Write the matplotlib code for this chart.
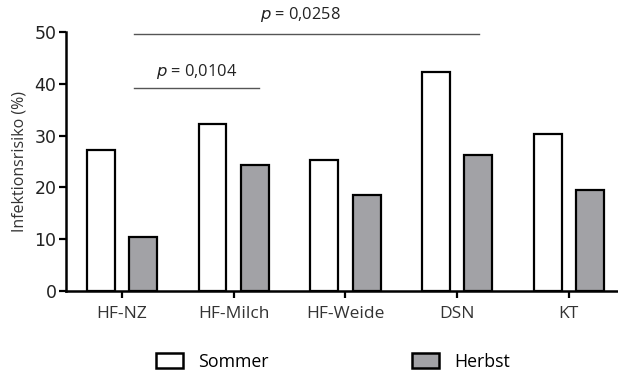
import numpy as np
import matplotlib
matplotlib.use("Agg")
import matplotlib.pyplot as plt
from matplotlib.patches import Patch

categories = ["HF-NZ", "HF-Milch", "HF-Weide", "DSN", "KT"]
sommer = [27.2, 32.2, 25.3, 42.3, 30.3]
herbst = [10.4, 24.4, 18.5, 26.3, 19.5]
series_names = ["Sommer", "Herbst"]
y_ticks = [0, 10, 20, 30, 40, 50]

GRAY = "#a2a2a6"
TXT = "#222222"
x = np.arange(len(categories))
w = 0.25
off = 0.19

fig = plt.figure(figsize=(6.18, 3.72), dpi=100)
ax = fig.add_axes([0.107, 0.218, 0.893, 0.696])

ax.bar(x - off, sommer, w, color="white", edgecolor="black", linewidth=1.6, zorder=3)
ax.bar(x + off, herbst, w, color=GRAY, edgecolor="black", linewidth=1.6, zorder=3)

ax.set_xlim(-0.5, 4.44)
ax.set_ylim(0, 50)
ax.set_yticks(y_ticks)
ax.set_yticklabels([str(t) for t in y_ticks], fontsize=12.5, family="DejaVu Sans", color=TXT)
ax.set_xticks(x)
ax.set_xticklabels(categories, fontsize=12.5, family="Open Sans", color="#333333")
ax.tick_params(axis="both", direction="out", length=5, width=1.6)
ax.tick_params(axis="x", pad=6)
ax.tick_params(axis="y", pad=2)
for s in ["top", "right"]:
    ax.spines[s].set_visible(False)
for s in ["left", "bottom"]:
    ax.spines[s].set_linewidth(1.8)

ax.set_ylabel("Infektionsrisiko (%)", fontsize=11.5, family="Open Sans", color="#333333", labelpad=5)

# p-value brackets
ax.plot([0.11, 3.2], [49.7, 49.7], color="#555555", lw=1.0, clip_on=False)
ax.text(1.6, 53.4, "$p$ = 0,0258", ha="center", va="center", fontsize=11.8, family="Open Sans", color=TXT)
ax.plot([0.11, 1.23], [39.2, 39.2], color="#555555", lw=1.0, clip_on=False)
ax.text(0.67, 42.4, "$p$ = 0,0104", ha="center", va="center", fontsize=11.8, family="Open Sans", color=TXT)

handles = [Patch(facecolor="white", edgecolor="black", linewidth=1.8),
           Patch(facecolor=GRAY, edgecolor="black", linewidth=1.8)]
fig.legend(handles, series_names, loc="center", bbox_to_anchor=(0.539, 0.028), ncol=2,
           frameon=False, handlelength=1.5, handleheight=0.9, handletextpad=0.85,
           columnspacing=8.1, borderpad=0, borderaxespad=0,
           prop={"family": "Open Sans", "size": 12.8})

fig.savefig("out.png", dpi=100)
